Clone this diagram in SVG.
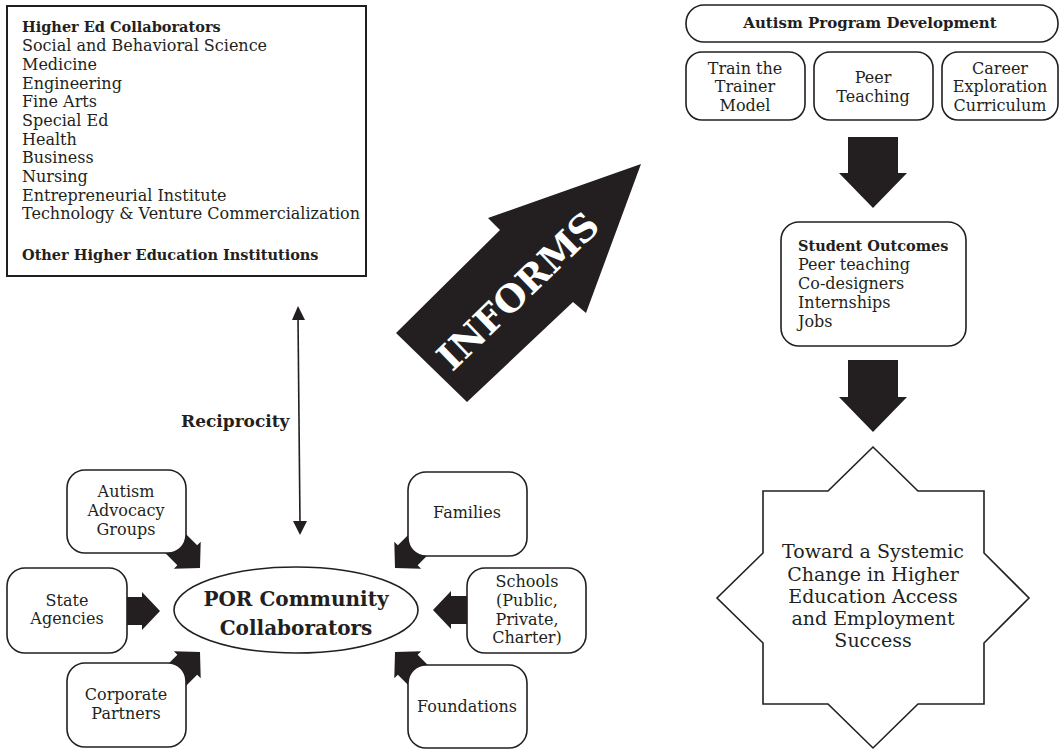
<svg xmlns="http://www.w3.org/2000/svg" width="1060" height="750" viewBox="0 0 1060 750">
<style>
.t{font-family:"DejaVu Serif","Liberation Serif",serif;font-size:16px;fill:#231f20}
.b{font-weight:bold;font-size:14.5px}
.c{text-anchor:middle}
.box{fill:#fff;stroke:#231f20;stroke-width:1.6}
.arr{fill:#231f20}
.ln{stroke:#231f20;stroke-width:1.6;fill:none}
</style>
<defs>
<path id="blk" d="M-62,-14 H-18 V-19 L0,0 L-18,19 V14 H-62 Z"/>
</defs>

<g id="connectors">
<polygon class="arr" points="292,320 298,306 305,320"/>
<polygon class="arr" points="293,521 300,535 307,521"/>
<line class="ln" x1="298" y1="318" x2="300" y2="523"/>
<text class="t b" x="181" y="427" style="font-size:17px">Reciprocity</text>

<g id="informs">
<polygon class="arr" points="396,333 500,230 488,218 641,164 586,313 573,302 467,402"/>
<text class="t b c" transform="translate(518,291) rotate(-44)" y="13" style="font-size:37px;fill:#fff" textLength="208" lengthAdjust="spacingAndGlyphs">INFORMS</text>
</g>

<polygon class="arr" points="848,137 898,137 898,173 907,173 873,208 839,173 848,173"/>
<polygon class="arr" points="848,360 898,360 898,397 907,397 873,432 839,397 848,397"/>

<use href="#blk" class="arr" transform="translate(200,568) rotate(45)"/>
<use href="#blk" class="arr" transform="translate(160,611)"/>
<use href="#blk" class="arr" transform="translate(200,652) rotate(-45)"/>
<use href="#blk" class="arr" transform="translate(395,568) rotate(135)"/>
<use href="#blk" class="arr" transform="translate(433,610) rotate(180)"/>
<use href="#blk" class="arr" transform="translate(395,652) rotate(-135)"/>
</g>

<g id="higher-ed">
<rect x="7" y="6" width="359" height="270" fill="#fff" stroke="#231f20" stroke-width="2"/>
<text class="t" x="22" y="32"><tspan class="b">Higher Ed Collaborators</tspan>
<tspan x="22" y="51">Social and Behavioral Science</tspan>
<tspan x="22" y="70">Medicine</tspan>
<tspan x="22" y="89">Engineering</tspan>
<tspan x="22" y="107">Fine Arts</tspan>
<tspan x="22" y="126">Special Ed</tspan>
<tspan x="22" y="145">Health</tspan>
<tspan x="22" y="163">Business</tspan>
<tspan x="22" y="182">Nursing</tspan>
<tspan x="22" y="201">Entrepreneurial Institute</tspan>
<tspan x="22" y="219">Technology &amp; Venture Commercialization</tspan>
<tspan x="22" y="260" class="b">Other Higher Education Institutions</tspan></text>
</g>

<g id="apd">
<rect class="box" x="686" y="5" width="372" height="37" rx="18"/>
<text class="t b c" x="870" y="28" style="font-size:15px">Autism Program Development</text>
</g>
<g id="train">
<rect class="box" x="686" y="52" width="119" height="68" rx="16"/>
<text class="t c" x="745" y="74">Train the<tspan x="745" y="92">Trainer</tspan><tspan x="745" y="111">Model</tspan></text>
</g>
<g id="peer">
<rect class="box" x="814" y="52" width="119" height="68" rx="16"/>
<text class="t c" x="873" y="83">Peer<tspan x="873" y="102">Teaching</tspan></text>
</g>
<g id="career">
<rect class="box" x="942" y="52" width="116" height="68" rx="16"/>
<text class="t c" x="1000" y="74">Career<tspan x="1000" y="92">Exploration</tspan><tspan x="1000" y="111">Curriculum</tspan></text>
</g>

<g id="outcomes">
<rect class="box" x="781" y="222" width="185" height="124" rx="18"/>
<text class="t" x="798" y="251"><tspan class="b">Student Outcomes</tspan><tspan x="798" y="270">Peer teaching</tspan><tspan x="798" y="289">Co-designers</tspan><tspan x="798" y="308">Internships</tspan><tspan x="798" y="327">Jobs</tspan></text>
</g>

<g id="systemic">
<polygon class="box" points="873,447 828,491 763,491 763,553 717,598 763,643 763,704 828,704 873,748 918,704 984,704 984,643 1029,598 984,553 984,491 918,491"/>
<text class="t c" x="873" y="558" style="font-size:19px">Toward a Systemic<tspan x="873" y="581">Change in Higher</tspan><tspan x="873" y="603">Education Access</tspan><tspan x="873" y="625">and Employment</tspan><tspan x="873" y="647">Success</tspan></text>
</g>

<g id="por">
<ellipse class="box" cx="296" cy="610" rx="122" ry="43"/>
<text class="t b c" x="296" y="606" style="font-size:20px">POR Community<tspan x="296" y="635">Collaborators</tspan></text>
</g>

<g id="autism-advocacy">
<rect class="box" x="67" y="470" width="119" height="83" rx="18"/>
<text class="t c" x="126" y="497">Autism<tspan x="126" y="516">Advocacy</tspan><tspan x="126" y="535">Groups</tspan></text>
</g>
<g id="state">
<rect class="box" x="7" y="568" width="120" height="85" rx="18"/>
<text class="t c" x="67" y="606">State<tspan x="67" y="624">Agencies</tspan></text>
</g>
<g id="corporate">
<rect class="box" x="67" y="663" width="119" height="84" rx="18"/>
<text class="t c" x="126" y="700">Corporate<tspan x="126" y="719">Partners</tspan></text>
</g>
<g id="families">
<rect class="box" x="408" y="472" width="119" height="84" rx="18"/>
<text class="t c" x="467" y="518">Families</text>
</g>
<g id="schools">
<rect class="box" x="467" y="568" width="119" height="85" rx="18"/>
<text class="t c" x="527" y="587">Schools<tspan x="527" y="606">(Public,</tspan><tspan x="527" y="625">Private,</tspan><tspan x="527" y="643">Charter)</tspan></text>
</g>
<g id="foundations">
<rect class="box" x="408" y="665" width="119" height="83" rx="18"/>
<text class="t c" x="467" y="712">Foundations</text>
</g>
</svg>
